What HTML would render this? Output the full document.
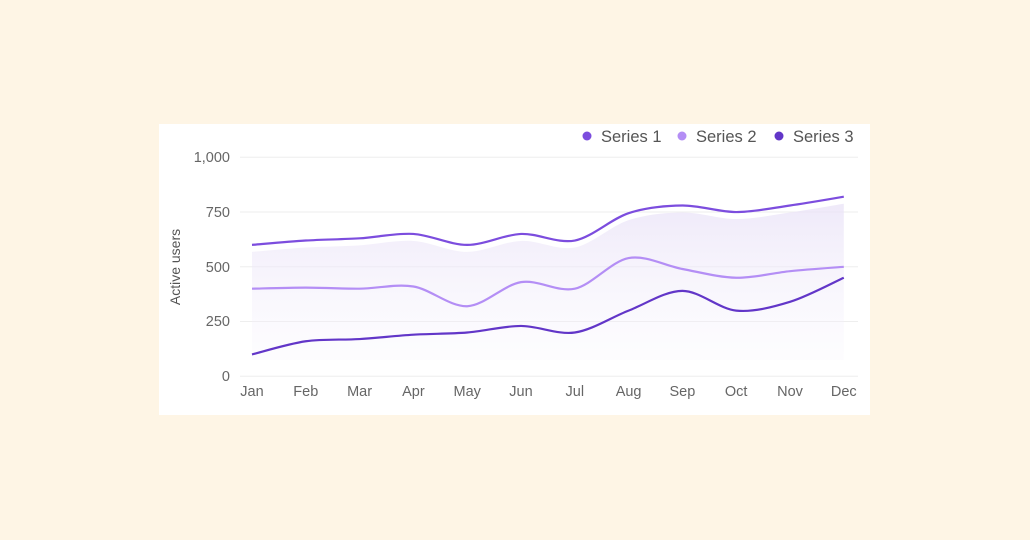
<!DOCTYPE html>
<html><head><meta charset="utf-8"><style>
body{margin:0;width:1030px;height:540px;background:#fef5e5;overflow:hidden;font-family:"Liberation Sans",sans-serif}
svg{position:absolute;left:0;top:0}
</style></head><body>
<svg width="1030" height="540" id="s">
<defs><linearGradient id="g" x1="0" y1="0" x2="0" y2="1">
<stop offset="0" stop-color="#e9e2f7" stop-opacity="0.75"/><stop offset="1" stop-color="#f6f3fc" stop-opacity="0.2"/></linearGradient></defs>
<rect x="159" y="124" width="711" height="291" fill="#fff"/>
<g stroke="#eeeeee" stroke-width="1">
<line x1="240" x2="858" y1="157.3" y2="157.3"/><line x1="240" x2="858" y1="212" y2="212"/>
<line x1="240" x2="858" y1="266.8" y2="266.8"/><line x1="240" x2="858" y1="321.5" y2="321.5"/>
<line x1="240" x2="858" y1="376.3" y2="376.3"/></g>
<g fill="#666" font-size="14.5" text-anchor="end">
<text x="230" y="162">1,000</text><text x="230" y="217">750</text><text x="230" y="272">500</text><text x="230" y="326">250</text><text x="230" y="381">0</text></g>
<text transform="translate(180,267) rotate(-90)" fill="#555" font-size="14" text-anchor="middle">Active users</text>
<g fill="#666" font-size="14.5" text-anchor="middle" id="xl"></g>
<path id="area" fill="url(#g)"/>
<path id="p2" fill="none" stroke="#b48ef5" stroke-width="2.2"/>
<path id="p3" fill="none" stroke="#6236c8" stroke-width="2.2"/>
<path id="p1" fill="none" stroke="#7c4dde" stroke-width="2.2"/>
<g font-size="16.5" fill="#555">
<circle cx="587" cy="136" r="4.5" fill="#7c4dde"/><text x="601" y="142">Series 1</text>
<circle cx="682" cy="136" r="4.5" fill="#b48ef5"/><text x="696" y="142">Series 2</text>
<circle cx="779" cy="136" r="4.5" fill="#6236c8"/><text x="793" y="142">Series 3</text></g>
</svg>
<script>
var m=["Jan","Feb","Mar","Apr","May","Jun","Jul","Aug","Sep","Oct","Nov","Dec"];
function X(i){return 252+i*53.8}function Y(v){return 376.3-v*0.219}
var xl=document.getElementById("xl"),h="";
m.forEach(function(t,i){h+='<text x="'+X(i)+'" y="396">'+t+'</text>'});xl.innerHTML=h;
function path(d,off){var p=d.map(function(v,i){return [X(i),Y(v)+off]});var s="M"+p[0][0]+","+p[0][1];
for(var i=0;i<p.length-1;i++){var p0=p[i-1]||p[i],p1=p[i],p2=p[i+1],p3=p[i+2]||p2,t=0.16;
s+=" C"+(p1[0]+(p2[0]-p0[0])*t)+","+(p1[1]+(p2[1]-p0[1])*t)+" "+(p2[0]-(p3[0]-p1[0])*t)+","+(p2[1]-(p3[1]-p1[1])*t)+" "+p2[0]+","+p2[1];}return s;}
var s1=[600,620,630,650,600,650,620,745,780,750,780,820],s2=[400,405,400,410,320,430,400,540,490,450,480,500],s3=[100,160,170,190,200,230,200,300,390,300,340,450];
document.getElementById("p1").setAttribute("d",path(s1,0));
document.getElementById("p2").setAttribute("d",path(s2,0));
document.getElementById("p3").setAttribute("d",path(s3,0));
document.getElementById("area").setAttribute("d",path(s1,7)+" L"+X(11)+",360 L"+X(0)+",360 Z");
</script>
</body></html>
